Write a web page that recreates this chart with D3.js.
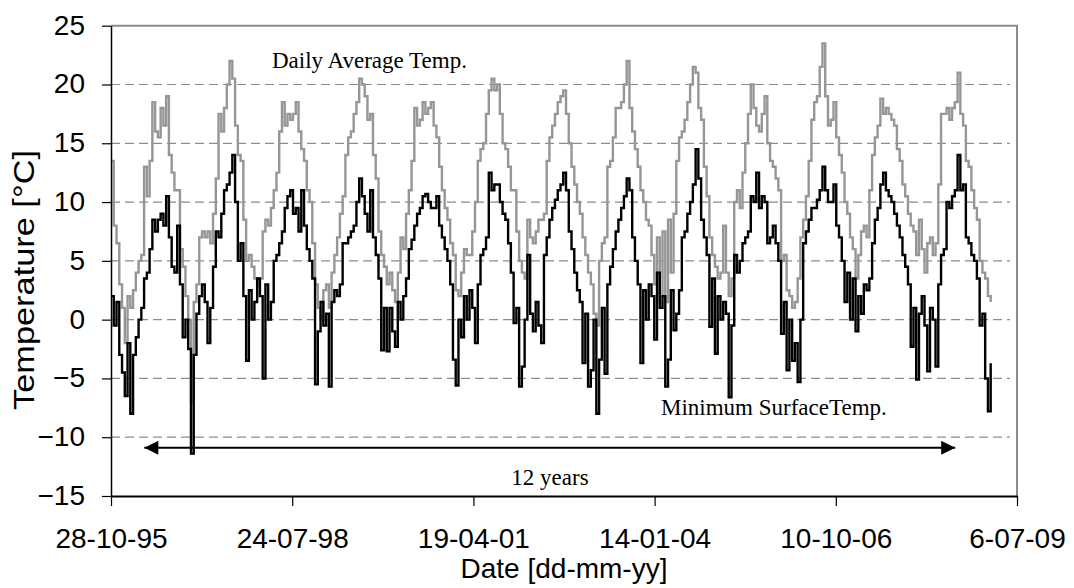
<!DOCTYPE html>
<html>
<head>
<meta charset="utf-8">
<script src="https://cdn.jsdelivr.net/npm/d3@7"></script>
<style>
  body { margin: 0; background: #fff; }
  svg { display: block; }
</style>
</head>
<body>
<div id="viz"></div>
<script>
// Data: one reading every 1/24 year starting 28-10-95
const startDate = Date.UTC(1995, 9, 28);
const stepDays = 365.25 / 24;

// Daily average temperature [°C] (grey line)
const avgTemp = [
  13.5, 8, 6.5, 3, 1, -2, 2, 1, 2.5, 4, 5, 5.5, 13, 10.5, 13.5, 18.5, 16, 15.5, 18, 16.5, 19, 14, 12.5, 11,
  11, 6, 4.5, 2, 0, -7, 1.5, 3, 7, 7.5, 7, 7.5, 6.5, 9, 12, 17.5, 16, 18, 20, 22, 20.5, 16.5, 14, 13.5,
  8.5, 5, 5.5, 4.5, 3.5, 3, 3.5, 7.5, 8.5, 8, 9.5, 11, 12.5, 16, 18.5, 16.5, 17.5, 17, 17.5, 18.5, 16, 14.5, 13.5, 11,
  10, 6.5, 3, 1, 0, 2.5, 3, 1, 4, 5.5, 7, 9, 10.5, 14, 15.5, 16, 17.5, 18.5, 20.5, 20, 19, 17, 17.5, 14,
  12, 7.5, 5.5, 4.5, 3, 4, 2.5, 1.5, 4, 7, 6, 9, 11, 13.5, 18, 16.5, 17, 18.5, 17.5, 18, 18.5, 16.5, 15.5, 13,
  11, 9.5, 8.5, 6.5, 5.5, 2.5, 2, 4, 6, 5.5, 5.5, 7.5, 10, 13.5, 14.5, 15, 17.5, 19.5, 20.5, 19.5, 20, 17.5, 15, 14.5,
  13, 11, 11, 7.5, 5, 4, 3.5, 8.5, 7, 6.5, 7.5, 8.5, 8.5, 9, 13.5, 15.5, 16.5, 17.5, 18.5, 19, 19.5, 17.5, 15, 13,
  11.5, 10, 9, 7, 5.5, 4, 3, 0.5, -0.5, 5, 6.5, 7, 13, 13.5, 15.5, 18, 18, 18.5, 20, 22, 18, 16, 14.5, 13,
  11, 10, 8.5, 8, 5.5, 3, 7, 2, 7.5, 1.5, 8.5, 4, 9, 13.5, 15.5, 16, 17, 18.5, 20, 21.5, 21, 18, 17, 13,
  10.5, 7, 5.5, 4.5, 3.5, 4, 8, 4, 2, 3.5, 10, 11, 9.5, 12.5, 15, 17.5, 20, 18, 16.5, 16, 17.5, 19, 15, 13.5,
  13, 12, 11, 5, 5.5, 2.5, 2, 1, 1.5, 3.5, 7, 8.5, 10.5, 13.5, 17, 18.5, 19, 21.5, 23.5, 19, 16.5, 17, 18.5, 15.5,
  14, 12.5, 10, 9, 7, 6, 3.5, 5.5, 7.5, 8, 7, 11, 14, 15.5, 16.5, 18.8, 17.5, 18, 17.5, 17, 16.5, 14.5, 13.5, 11.5,
  10.5, 9, 8, 7.5, 5.5, 8.5, 6, 4, 6.5, 7, 5.5, 6.5, 11.5, 17.5, 17.5, 18, 17, 18, 18.5, 21, 17.5, 16.5, 13.5, 13,
  11, 9.5, 8.5, 5, 4, 3.5, 2, 1.5
];

// Minimum surface temperature [°C] (black line)
const minSurfTemp = [
  2, -0.5, 1.5, -3, -4.5, -6.5, -2, -8, -3, -1.5, 0, 1, 3.5, 4, 6, 8.5, 7.5, 8.5, 9, 8, 10.5, 7, 4.5, 4,
  8, 3, -1.5, 0, -2.5, -11.4, -3, 0.5, 2, 3, 1.5, -2, 1, 4.5, 7.5, 7, 9, 11, 11.5, 12.5, 14, 10, 5, 6.5,
  2, -3.5, 2.5, 0, 1.5, 3.5, 2, -5, 3, 0, 1.5, 5, 5.5, 6.5, 7.5, 9.5, 10.5, 11, 9, 9.5, 7.5, 11, 8, 6,
  5, 3.5, -5.5, -1, 1.5, -0.5, 0.5, -5.7, 1.5, 2.5, 2, 3, 6.5, 6.5, 7, 7.5, 8, 10, 12, 10.5, 9, 7.5, 11, 7,
  5.5, 3.5, -2.6, 1, -2.7, 1, -1, -2.3, 1.5, 0, 2, 3.5, 6, 6.8, 8, 9, 9.5, 10.5, 10.7, 10, 9.5, 9.5, 10.5, 8,
  7, 6, 5, 3, -3.4, -5.6, 0, -1.5, 2, 0, 2.5, 1, -2, 3, 5.5, 6, 7, 12.5, 11, 11.5, 11.5, 10, 9, 8.5,
  6.5, 4, -0.3, 1, -5.7, -4, 0, 5.5, 0.5, -1, 1.5, -0.5, -2, 5.5, 7, 8.5, 9.5, 10.2, 11, 11.5, 12.5, 11, 7.5, 6,
  4, 2.5, 1.5, -3.7, 0.5, -5.7, -4.3, 0, -8, -3.4, 1, -4.6, 3, 4.5, 6, 7.5, 8.5, 9.5, 10.5, 12, 11, 7, 5, 3,
  -3.7, 2.5, 0, 3, 2, -1.7, 4, 1, 2, -5.7, -3.4, 2.5, -0.9, 0.5, 2.5, 7, 7.5, 9, 10, 11.5, 14.5, 12, 8.5, 7,
  5.5, -0.6, 3.5, -2.9, 2, 0, 1.5, 0.5, -6.6, -0.5, 5.5, 4, 5, 6.5, 7, 7.5, 10.5, 10, 12.5, 9.5, 10.5, 10, 6.5, 7,
  8, 6.5, 5, -1.2, 1.5, -4.3, 0, -3.5, -2, -5.3, 0, 6.5, 7.5, 8.5, 9.5, 9.5, 10.2, 11, 13, 11, 10, 10, 11.5, 8,
  7, 5, 1.5, 4, 0, 3.5, -1, 2, 0.5, 3, 2.5, 3.5, 6.5, 8.5, 9.5, 11.5, 12.5, 11, 10.5, 10, 9, 8, 7, 5.5,
  4.5, 3, -2.3, 1, -5.1, 0.5, 2, -0.5, -4.4, 1, 0, -4, 3, 5.5, 6, 10, 9.5, 10.5, 11, 14, 11, 11.5, 7, 6.5,
  5.5, 5, 3.5, -0.5, 0.5, -5, -7.8, -3.7
];

// Axis ticks
const xTickDates = ["1995-10-28", "1998-07-24", "2001-04-19", "2004-01-14", "2006-10-10", "2009-07-06"];
const xTickLabels = ["28-10-95", "24-07-98", "19-04-01", "14-01-04", "10-10-06", "6-07-09"];
const yTicks = [-15, -10, -5, 0, 5, 10, 15, 20, 25];
const gridValues = [-10, -5, 0, 5, 10, 15, 20];

// Annotation: the 12 year span
const spanStart = "1996-04-29";
const spanEnd = "2008-07-30";
const spanLevel = -10.9;

// Chart geometry
const width = 1074;
const height = 588;
const margin = {top: 25.7, right: 57, bottom: 92, left: 111};
const innerWidth = width - margin.left - margin.right;
const innerHeight = height - margin.top - margin.bottom;
const sansFont = "Liberation Sans, Arial, sans-serif";
const serifFont = "Liberation Serif, Times New Roman, serif";

const svg = d3.select("#viz").append("svg")
  .attr("width", width)
  .attr("height", height);

const g = svg.append("g")
  .attr("transform", "translate(" + margin.left + "," + margin.top + ")");

const xScale = d3.scaleUtc()
  .domain([new Date(xTickDates[0]), new Date(xTickDates[xTickDates.length - 1])])
  .range([0, innerWidth]);
const yScale = d3.scaleLinear().domain([-15, 25]).range([innerHeight, 0]);

const dates = avgTemp.map((d, i) => new Date(startDate + i * stepDays * 864e5));

// Grid lines (dashed)
g.selectAll(".grid")
  .data(gridValues)
  .enter().append("line")
  .attr("x1", 0)
  .attr("x2", innerWidth - 7)
  .attr("y1", d => yScale(d))
  .attr("y2", d => yScale(d))
  .attr("stroke", "#8c8c8c")
  .attr("stroke-width", 1.2)
  .attr("stroke-dasharray", "9,5");

// Plot frame: top and right in grey
g.append("path")
  .attr("d", "M0,0H" + innerWidth + "V" + innerHeight)
  .attr("fill", "none")
  .attr("stroke", "#8c8c8c")
  .attr("stroke-width", 2);

// Series lines
const lineFor = values => d3.line()
  .x((d, i) => xScale(dates[i]))
  .y(d => yScale(d))
  .curve(d3.curveStepAfter)(values);

g.append("path")
  .attr("d", lineFor(avgTemp))
  .attr("fill", "none")
  .attr("stroke", "#969696")
  .attr("stroke-width", 2.4);

g.append("path")
  .attr("d", lineFor(minSurfTemp))
  .attr("fill", "none")
  .attr("stroke", "#000")
  .attr("stroke-width", 2.4);

// Axes
const xAxis = d3.axisBottom(xScale)
  .tickValues(xTickDates.map(d => new Date(d)))
  .tickFormat((d, i) => xTickLabels[i])
  .tickSizeInner(10)
  .tickSizeOuter(0)
  .tickPadding(22);

const xAxisG = g.append("g")
  .attr("transform", "translate(0," + innerHeight + ")")
  .call(xAxis)
  .attr("font-size", 28)
  .attr("font-family", sansFont);
xAxisG.select(".domain").attr("stroke", "#000").attr("stroke-width", 2);
xAxisG.selectAll(".tick line").attr("stroke", "#000").attr("stroke-width", 1.2);
xAxisG.selectAll(".tick text").attr("fill", "#000");

const yAxis = d3.axisLeft(yScale)
  .tickValues(yTicks)
  .tickSizeInner(9)
  .tickSizeOuter(0)
  .tickPadding(17);

const yAxisG = g.append("g")
  .call(yAxis)
  .attr("font-size", 28)
  .attr("font-family", sansFont);
yAxisG.select(".domain").attr("stroke", "#000").attr("stroke-width", 1.5);
yAxisG.selectAll(".tick line").attr("stroke", "#000").attr("stroke-width", 1.2);
yAxisG.selectAll(".tick text").attr("fill", "#000").attr("dy", "0.3em");

// Axis titles
svg.append("text")
  .attr("x", margin.left + innerWidth / 2)
  .attr("y", 578)
  .attr("text-anchor", "middle")
  .attr("font-family", sansFont)
  .attr("font-size", 28)
  .text("Date [dd-mm-yy]");

svg.append("text")
  .attr("transform", "rotate(-90)")
  .attr("x", -280)
  .attr("y", 34)
  .attr("text-anchor", "middle")
  .attr("font-family", sansFont)
  .attr("font-size", 29)
  .attr("textLength", 260)
  .attr("lengthAdjust", "spacingAndGlyphs")
  .text("Temperature [°C]");

// Series annotations
g.append("text")
  .attr("x", 272 - margin.left)
  .attr("y", 68 - margin.top)
  .attr("font-family", serifFont)
  .attr("font-size", 23)
  .text("Daily Average Temp.");

g.append("text")
  .attr("x", 661 - margin.left)
  .attr("y", 415 - margin.top)
  .attr("font-family", serifFont)
  .attr("font-size", 23)
  .text("Minimum SurfaceTemp.");

// 12 years double arrow
svg.append("defs").selectAll("marker")
  .data(["arrowEnd", "arrowStart"])
  .enter().append("marker")
  .attr("id", d => d)
  .attr("viewBox", "0 0 10 10")
  .attr("refX", 10)
  .attr("refY", 5)
  .attr("markerUnits", "userSpaceOnUse")
  .attr("markerWidth", 16)
  .attr("markerHeight", 14)
  .attr("orient", "auto-start-reverse")
  .append("path")
  .attr("d", "M0,0L10,5L0,10Z")
  .attr("fill", "#000");

const ySpan = yScale(spanLevel);
g.append("line")
  .attr("x1", xScale(new Date(spanStart)))
  .attr("x2", xScale(new Date(spanEnd)))
  .attr("y1", ySpan)
  .attr("y2", ySpan)
  .attr("stroke", "#000")
  .attr("stroke-width", 2)
  .attr("marker-start", "url(#arrowStart)")
  .attr("marker-end", "url(#arrowEnd)");

g.append("text")
  .attr("x", 550 - margin.left)
  .attr("y", 485 - margin.top)
  .attr("text-anchor", "middle")
  .attr("font-family", serifFont)
  .attr("font-size", 23)
  .text("12 years");
</script>
</body>
</html>
